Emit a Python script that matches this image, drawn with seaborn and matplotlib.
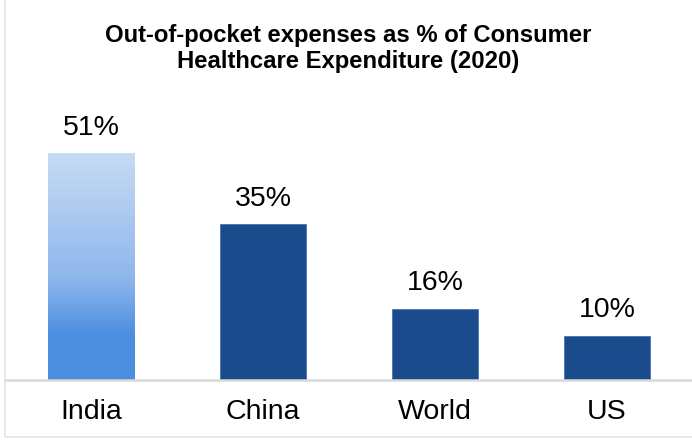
import numpy as np
import pandas as pd
import seaborn as sns
import matplotlib.pyplot as plt
from matplotlib.patches import Rectangle
from matplotlib.colors import LinearSegmentedColormap

categories = ["India", "China", "World", "US"]
values = [51, 35, 16, 10]
labels = ["51%", "35%", "16%", "10%"]

sns.set_theme(style="white")
plt.rcParams['font.family'] = ['Liberation Sans', 'DejaVu Sans']

df = pd.DataFrame({"cat": categories, "val": values})

fig = plt.figure(figsize=(6.92, 4.4), dpi=100)
ax = fig.add_axes([5/692, 60/440, 688/692, 267/440])

dark = "#1a4b8c"
sns.barplot(data=df, x="cat", y="val", color=dark, width=0.505, ax=ax,
            saturation=1, edgecolor="#4a73ad", linewidth=0.6)

ax.set_ylim(0, 60)
ax.set_xlim(-0.5, 3.5)

# gradient for first bar
p = ax.patches[0]
x0, y0, w, h = p.get_x(), p.get_y(), p.get_width(), p.get_height()
p.set_facecolor("none")
p.set_edgecolor("none")
cmap = LinearSegmentedColormap.from_list("g", [(0, "#4a8ee0"), (0.2, "#4d8fe1"), (0.45, "#8fb7ec"), (1.0, "#c6dbf4")])
grad = np.linspace(0, 1, 256).reshape(-1, 1)
im = ax.imshow(grad, extent=[x0, x0 + w, y0, y0 + h], origin="lower", cmap=cmap,
               aspect="auto", zorder=p.get_zorder())
im.set_clip_path(p)

ax.bar_label(ax.containers[0], labels=labels, padding=9, fontsize=20.5, color="#000000")

ax.set_xlabel("")
ax.set_ylabel("")
ax.set_yticks([])
ax.tick_params(axis="x", length=0, pad=14, labelsize=20.5, labelcolor="#000000")
for s in ["top", "left", "right"]:
    ax.spines[s].set_visible(False)
ax.spines["bottom"].set_color("#d9d9d9")
ax.spines["bottom"].set_linewidth(1.8)

fig.text(0.5 + 5/692/2, 1 - 48.5/440, "Out-of-pocket expenses as % of Consumer\nHealthcare Expenditure (2020)",
         ha="center", va="center", fontsize=17.2, fontweight="bold", color="#000000",
         linespacing=1.12)

frame = Rectangle((5/692, 3/440), 1.0, 1.0, transform=fig.transFigure, fill=False,
                  edgecolor="#e3e3e3", linewidth=1.2)
fig.patches.append(frame)

fig.savefig("out.png", dpi=100)
